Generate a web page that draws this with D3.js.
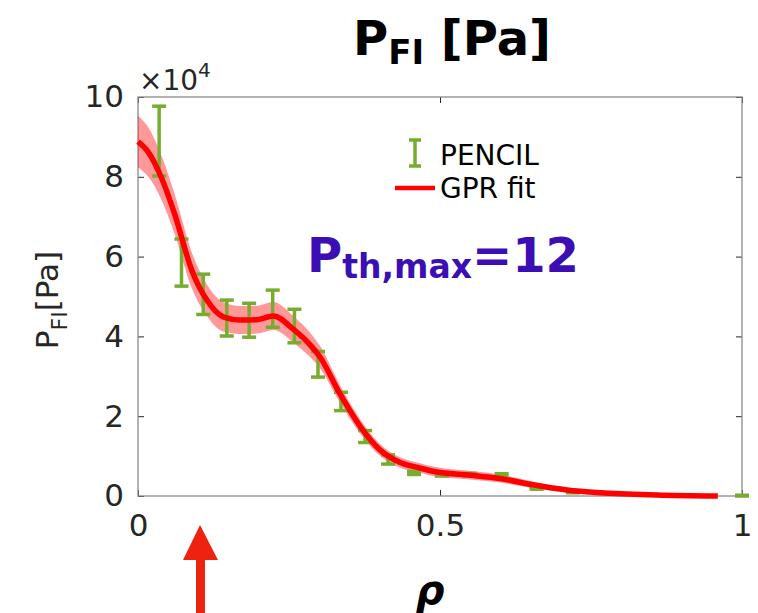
<!DOCTYPE html>
<html><head><meta charset="utf-8">
<script src="https://cdn.jsdelivr.net/npm/d3@7"></script>
<style>body{margin:0;background:#fff}svg{display:block}text{font-family:"DejaVu Sans",sans-serif}</style>
</head><body><svg id="c" width="758" height="613"></svg>
<script>
// GPR fit (rho, value in 1e4 Pa, half-width of band)
const fitRho = [0,0.017,0.039,0.061,0.089,0.114,0.141,0.169,0.197,0.224,0.257,0.29,0.301,0.334,0.368,0.401,0.434,0.467,0.488,0.544,0.599,0.654,0.71,0.765,0.859,0.96];
const fitVal = [8.88,8.62,7.97,7.05,5.66,4.91,4.49,4.41,4.42,4.51,4.18,3.7,3.49,2.57,1.74,1.15,0.84,0.7,0.62,0.53,0.44,0.28,0.15,0.08,0.025,0.0];
const fitErr = [0.65,0.62,0.55,0.5,0.45,0.4,0.37,0.35,0.35,0.35,0.33,0.3,0.28,0.22,0.18,0.15,0.13,0.12,0.12,0.11,0.1,0.08,0.06,0.04,0.03,0.02];
// PENCIL data error bars
const pRho = [0.035,0.072,0.108,0.147,0.184,0.223,0.259,0.298,0.336,0.376,0.414,0.457,0.503,0.55,0.602,0.66,0.72,1.0];
const pLow = [8.02,5.26,4.55,4.01,3.98,4.23,3.84,2.98,2.14,1.34,0.80,0.54,0.50,0.50,0.50,0.17,0.08,0.0];
const pHigh = [9.77,6.44,5.56,4.91,4.83,5.16,4.68,3.62,2.60,1.64,1.03,0.62,0.57,0.57,0.56,0.22,0.12,0.02];
const xTicks = [0,0.5,1];
const xTickLabels = ["0","0.5","1"];
const yTicks = [0,2,4,6,8,10];

const svg = d3.select("#c");
const L=138,R=742,T=97,B=496;
const x = d3.scaleLinear().domain([0,1]).range([L,R]);
const y = d3.scaleLinear().domain([0,10]).range([B,T]);
const axisCol="#262626";

// title
const title = svg.append("text").attr("x",452).attr("y",55).attr("text-anchor","middle")
  .attr("font-size",48).attr("font-weight","bold").attr("fill","#000");
title.append("tspan").text("P");
title.append("tspan").attr("font-size",34).attr("dy",9).text("FI");
title.append("tspan").attr("dy",-9).text(" [Pa]");

// axes box with mirrored ticks
const g = svg.append("g");
const tl=6;
g.append("g").attr("transform",`translate(0,${B})`).call(d3.axisBottom(x).tickValues(xTicks).tickSize(-tl).tickFormat((d,i)=>xTickLabels[i]).tickPadding(18))
  .call(s=>{s.select(".domain").remove();s.selectAll("line").attr("stroke",axisCol);s.selectAll("text").attr("font-size",31).attr("fill",axisCol).attr("font-family","DejaVu Sans");});
g.append("g").attr("transform",`translate(0,${T})`).call(d3.axisTop(x).tickValues(xTicks).tickSize(-tl).tickFormat(""))
  .call(s=>{s.select(".domain").remove();s.selectAll("line").attr("stroke",axisCol);});
g.append("g").attr("transform",`translate(${L},0)`).call(d3.axisLeft(y).tickValues(yTicks).tickSize(-tl).tickPadding(14))
  .call(s=>{s.select(".domain").remove();s.selectAll("line").attr("stroke",axisCol);s.selectAll("text").attr("font-size",31).attr("fill",axisCol).attr("font-family","DejaVu Sans");});
g.append("g").attr("transform",`translate(${R},0)`).call(d3.axisRight(y).tickValues(yTicks).tickSize(-tl).tickFormat(""))
  .call(s=>{s.select(".domain").remove();s.selectAll("line").attr("stroke",axisCol);});
g.append("rect").attr("x",L).attr("y",T).attr("width",R-L).attr("height",B-T)
  .attr("fill","none").attr("stroke","#8a8a8a").attr("stroke-width",1.3);

// exponent
const ex = svg.append("text").attr("x",139).attr("y",90).attr("font-size",28).attr("fill",axisCol);
ex.append("tspan").text("\u00d710");
ex.append("tspan").attr("font-size",20).attr("dy",-13).text("4");

// y label
const yl = svg.append("text").attr("transform","translate(58,300) rotate(-90)").attr("text-anchor","middle")
  .attr("font-size",31).attr("fill",axisCol);
yl.append("tspan").text("P");
yl.append("tspan").attr("font-size",22).attr("dy",9).text("FI");
yl.append("tspan").attr("dy",-9).text("[Pa]");

// band
const fit = fitRho.map((r,i)=>({r,v:fitVal[i],e:fitErr[i]}));
svg.append("path").datum(fit)
  .attr("d",d3.area().x(d=>x(d.r)).y0(d=>y(d.v-d.e)).y1(d=>y(d.v+d.e)).curve(d3.curveMonotoneX))
  .attr("fill","#ff0000").attr("fill-opacity",0.4);

// error bars
const green="#77ac30";
const eb = svg.append("g").attr("stroke",green).attr("stroke-width",3.5);
pRho.forEach((r,i)=>{
  const cx=x(r), y1=y(pLow[i]), y2=y(pHigh[i]);
  eb.append("line").attr("x1",cx).attr("x2",cx).attr("y1",y1).attr("y2",y2);
  eb.append("line").attr("x1",cx-7).attr("x2",cx+7).attr("y1",y1).attr("y2",y1);
  eb.append("line").attr("x1",cx-7).attr("x2",cx+7).attr("y1",y2).attr("y2",y2);
});

// fit line
svg.append("path").datum(fit)
  .attr("d",d3.line().x(d=>x(d.r)).y(d=>y(d.v)).curve(d3.curveMonotoneX))
  .attr("fill","none").attr("stroke","#ff0000").attr("stroke-width",5.5);

// legend
const lg = svg.append("g");
lg.append("line").attr("x1",415).attr("x2",415).attr("y1",140).attr("y2",166).attr("stroke",green).attr("stroke-width",3.5);
lg.append("line").attr("x1",409).attr("x2",421).attr("y1",140).attr("y2",140).attr("stroke",green).attr("stroke-width",3.5);
lg.append("line").attr("x1",409).attr("x2",421).attr("y1",166).attr("y2",166).attr("stroke",green).attr("stroke-width",3.5);
lg.append("text").attr("x",440).attr("y",165).attr("font-size",28).attr("fill","#000").text("PENCIL");
lg.append("line").attr("x1",395).attr("x2",435).attr("y1",188).attr("y2",188).attr("stroke","#ff0000").attr("stroke-width",4.5);
lg.append("text").attr("x",440).attr("y",198).attr("font-size",28).attr("fill","#000").text("GPR fit");

// annotation
const an = svg.append("text").attr("x",307).attr("y",272).attr("font-size",48).attr("font-weight","bold").attr("fill","#3b0fb4");
an.append("tspan").text("P");
an.append("tspan").attr("font-size",33).attr("dy",6).text("th,max");
an.append("tspan").attr("dy",-6).text("=12");

// x label
svg.append("text").attr("x",430).attr("y",604).attr("text-anchor","middle").attr("font-size",40)
  .attr("font-weight","bold").attr("font-style","italic").attr("fill","#000").text("\u03c1");

// arrow
svg.append("path").attr("d","M200,525 L218,560 L205,560 L205,613 L196,613 L196,560 L183,560 Z").attr("fill","#ee2211");
</script></body></html>
